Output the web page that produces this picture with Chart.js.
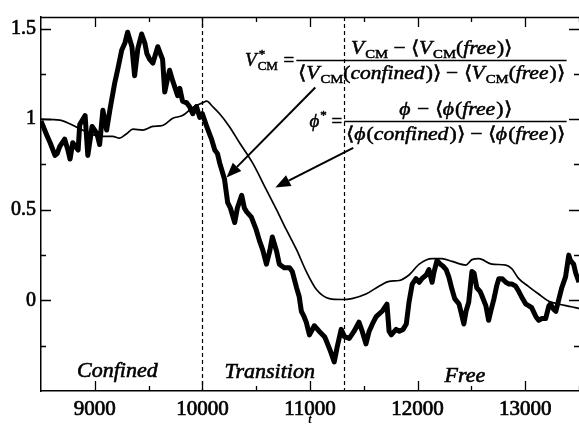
<!DOCTYPE html>
<html>
<head>
<meta charset="utf-8">
<script src="https://cdn.jsdelivr.net/npm/chart.js@4.4.1/dist/chart.umd.min.js"></script>
<style>
  html, body { margin: 0; padding: 0; background: #fff; }
</style>
</head>
<body>
<canvas id="myChart" width="579" height="425"></canvas>
<script>
// normalised centre-of-mass velocity (noisy trace)
let vcmTime = [
  8500, 8555, 8585, 8630, 8650, 8675, 8720, 8750, 8770, 8795, 8845, 8860, 8910, 8935, 8975,
  9020, 9045, 9075, 9110, 9140, 9185, 9215, 9250, 9280, 9305, 9345, 9370, 9400, 9435, 9465,
  9485, 9510, 9540, 9565, 9585, 9610, 9630, 9650, 9675, 9695, 9725, 9770, 9790, 9815, 9855,
  9880, 9910, 9945, 9975, 10000, 10040, 10065, 10085, 10115, 10140, 10160, 10185, 10205, 10235, 10260,
  10300, 10325, 10365, 10390, 10410, 10455, 10500, 10530, 10560, 10595, 10625, 10650, 10690, 10715, 10760,
  10810, 10835, 10875, 10900, 10920, 10945, 10965, 10995, 11040, 11085, 11135, 11150, 11190, 11225, 11255,
  11290, 11320, 11365, 11410, 11455, 11485, 11520, 11550, 11580, 11615, 11670, 11715, 11735, 11755, 11800,
  11830, 11865, 11895, 11920, 11950, 11985, 12015, 12040, 12080, 12105, 12135, 12150, 12180, 12210, 12235,
  12265, 12290, 12320, 12345, 12385, 12430, 12450, 12475, 12505, 12525, 12550, 12580, 12595, 12635, 12660,
  12680, 12710, 12735, 12755, 12785, 12820, 12850, 12875, 12910, 12940, 12975, 13005, 13035, 13060, 13100,
  13125, 13155, 13190, 13220, 13235, 13265, 13285, 13310, 13340, 13375, 13405, 13420, 13450, 13470, 13500
];
let vcmValue = [
  0.99, 0.91, 0.87, 0.80, 0.81, 0.85, 0.89, 0.83, 0.78, 0.87, 0.83, 0.97, 1.02, 0.80, 0.96,
  0.92, 0.86, 1.05, 0.94, 1.05, 1.20, 1.28, 1.38, 1.42, 1.48, 1.40, 1.24, 1.39, 1.47, 1.42,
  1.36, 1.33, 1.31, 1.36, 1.40, 1.36, 1.33, 1.15, 1.22, 1.27, 1.21, 1.13, 1.17, 1.10, 1.09,
  1.07, 1.03, 1.07, 1.01, 1.03, 0.96, 0.92, 0.89, 0.83, 0.81, 0.76, 0.71, 0.67, 0.54, 0.51,
  0.43, 0.51, 0.58, 0.51, 0.49, 0.46, 0.39, 0.33, 0.28, 0.20, 0.27, 0.35, 0.27, 0.20, 0.18,
  0.18, 0.16, 0.07, 0.02, -0.06, -0.09, -0.12, -0.19, -0.14, -0.17, -0.20, -0.22, -0.28, -0.34, -0.25,
  -0.16, -0.20, -0.21, -0.17, -0.12, -0.17, -0.24, -0.17, -0.13, -0.09, -0.06, -0.02, -0.17, -0.19, -0.16,
  -0.17, -0.16, -0.13, -0.01, 0.09, 0.12, 0.10, 0.12, 0.14, 0.17, 0.10, 0.15, 0.22, 0.20, 0.19,
  0.17, 0.13, 0.06, 0.01, -0.02, -0.13, -0.06, -0.01, 0.16, 0.15, 0.07, 0.05, 0.03, -0.03, -0.11,
  -0.06, 0.01, 0.08, 0.12, 0.12, 0.10, 0.09, 0.09, 0.08, 0.05, 0.01, -0.02, -0.03, -0.04, -0.09,
  -0.11, -0.10, -0.10, -0.03, -0.02, -0.05, -0.06, 0.00, 0.07, 0.13, 0.25, 0.22, 0.20, 0.15, 0.10
];

// normalised order parameter (smooth trace)
let phiTime = [
  8500, 8675, 8835, 8980, 9075, 9165, 9230, 9295, 9355, 9445, 9540, 9630, 9725, 9815, 9910,
  10000, 10040, 10095, 10160, 10250, 10345, 10465, 10595, 10690, 10780, 10875, 10965, 11060, 11180, 11300,
  11390, 11520, 11645, 11735, 11830, 11920, 12015, 12135, 12225, 12320, 12450, 12505, 12570, 12690, 12820,
  12875, 12940, 13035, 13125, 13220, 13310, 13430, 13500
];
let phiValue = [
  1.00, 0.995, 0.955, 0.915, 0.905, 0.905, 0.895, 0.92, 0.945, 0.94, 0.96, 0.965, 1.005, 1.02, 1.065,
  1.09, 1.10, 1.07, 1.03, 0.96, 0.87, 0.76, 0.61, 0.50, 0.39, 0.28, 0.16, 0.06, 0.01, 0.005,
  0.01, 0.035, 0.08, 0.105, 0.11, 0.14, 0.20, 0.23, 0.23, 0.215, 0.195, 0.225, 0.23, 0.20, 0.195,
  0.175, 0.12, 0.075, 0.035, -0.005, -0.02, -0.035, -0.045
];

let xMajorTicks = [9000, 10000, 11000, 12000, 13000];
let xMinorTicks = [9500, 10500, 11500, 12500, 13500];
let yMajorTicks = [0, 0.5, 1, 1.5];
let yMinorTicks = [-0.25, 0.25, 0.75, 1.25];
let regionBounds = [10000, 11320];
let regionNames = ["Confined", "Transition", "Free"];

const serif = '"Liberation Serif", "Times New Roman", serif';

function fontFor(kind, size) {
  if (kind === "i") return "italic " + size + "px " + serif;
  if (kind === "sub" || kind === "sup" || kind === "ss") return Math.round(size * 0.7) + "px " + serif;
  return size + "px " + serif;
}
// slightly heavier text, like a printed page
function ink(ctx, s, x, y) {
  ctx.fillText(s, x, y);
  ctx.strokeText(s, x, y);
}
function partWidth(ctx, p, size) {
  ctx.font = fontFor(p[0], size);
  if (p[0] === "ss") return Math.max(ctx.measureText(p[1]).width, ctx.measureText(p[2]).width) + 1;
  return ctx.measureText(p[1]).width + (p[0] === "i" ? size * 0.05 : 0);
}
function rowWidth(ctx, parts, size) {
  return parts.reduce((s, p) => s + partWidth(ctx, p, size), 0);
}
function drawParts(ctx, parts, x, y, size) {
  parts.forEach((p) => {
    const w = partWidth(ctx, p, size);
    ctx.font = fontFor(p[0], size);
    if (p[0] === "ss") {
      ink(ctx, p[1], x + 1, y - size * 0.42);
      ink(ctx, p[2], x, y + size * 0.24);
    } else {
      const dy = p[0] === "sub" ? size * 0.24 : p[0] === "sup" ? -size * 0.42 : 0;
      ink(ctx, p[1], x, y + dy);
    }
    x += w;
  });
}
function arrow(ctx, x0, y0, x1, y1) {
  const a = Math.atan2(y1 - y0, x1 - x0);
  const L = 15, W = 6;
  const bx = x1 - L * Math.cos(a), by = y1 - L * Math.sin(a);
  ctx.beginPath(); ctx.moveTo(x0, y0); ctx.lineTo(bx, by); ctx.stroke();
  ctx.beginPath();
  ctx.moveTo(x1, y1);
  ctx.lineTo(bx + W * Math.sin(a), by - W * Math.cos(a));
  ctx.lineTo(bx - W * Math.sin(a), by + W * Math.cos(a));
  ctx.closePath(); ctx.fill();
}

const V = ["i", "V"], CM = ["sub", "CM"], LA = ["r", "\u27E8"], RA = ["r", "\u27E9"];
const PHI = ["i", "\u03D5"], MINUS = ["r", " \u2212 "], LP = ["r", "("], RP = ["r", ")"];
const eqV = {
  left: [V, ["ss", "*", "CM"], ["r", " ="]],
  num: [V, CM, MINUS, LA, V, CM, LP, ["i", "free"], RP, RA],
  den: [LA, V, CM, LP, ["i", "confined"], RP, RA, MINUS, LA, V, CM, LP, ["i", "free"], RP, RA]
};
const eqPhi = {
  left: [PHI, ["sup", "*"], ["r", " ="]],
  num: [PHI, MINUS, LA, PHI, LP, ["i", "free"], RP, RA],
  den: [LA, PHI, LP, ["i", "confined"], RP, RA, MINUS, LA, PHI, LP, ["i", "free"], RP, RA]
};

function fraction(ctx, x, y, eq, t0, t1, level) {
  const size = 19;
  const xa = x.getPixelForValue(t0), xb = x.getPixelForValue(t1);
  const yb = Math.round(y.getPixelForValue(level)) + 0.5;
  ctx.lineWidth = 1.5;
  ctx.beginPath(); ctx.moveTo(xa, yb); ctx.lineTo(xb, yb); ctx.stroke();
  ctx.lineWidth = 0.5;
  const k = (xb - xa - 4) / rowWidth(ctx, eq.den, size);
  [[eq.num, yb - 7], [eq.den, yb + 18]].forEach(([row, base]) => {
    const w = rowWidth(ctx, row, size);
    ctx.save();
    ctx.translate((xa + xb) / 2, base);
    ctx.scale(k, 1);
    drawParts(ctx, row, -w / 2, 0, size);
    ctx.restore();
  });
  const wl = rowWidth(ctx, eq.left, size);
  drawParts(ctx, eq.left, xa - 2 - wl, yb + 5, size);
}

const frame = {
  id: "frame",
  beforeDatasetsDraw(chart) {
    const { ctx, chartArea: a, scales: { x } } = chart;
    ctx.save();
    ctx.strokeStyle = "#000";
    ctx.lineWidth = 1.2;
    ctx.setLineDash([4, 3]);
    regionBounds.forEach((t) => {
      const px = Math.round(x.getPixelForValue(t)) + 0.5;
      ctx.beginPath(); ctx.moveTo(px, a.top); ctx.lineTo(px, a.bottom); ctx.stroke();
    });
    ctx.restore();
  },
  afterDraw(chart) {
    const { ctx, chartArea: a, scales: { x, y } } = chart;
    ctx.save();
    ctx.strokeStyle = "#000";
    ctx.fillStyle = "#000";
    ctx.lineWidth = 1.3;

    // top frame line
    ctx.beginPath(); ctx.moveTo(a.left, a.top + 0.5); ctx.lineTo(a.right, a.top + 0.5); ctx.stroke();

    // inward tick marks on all four sides
    const tick = (vals, len) => {
      vals.forEach((v) => {
        const px = Math.round(x.getPixelForValue(v)) + 0.5;
        ctx.beginPath();
        ctx.moveTo(px, a.bottom); ctx.lineTo(px, a.bottom - len);
        ctx.moveTo(px, a.top); ctx.lineTo(px, a.top + len);
        ctx.stroke();
      });
    };
    const ytick = (vals, len) => {
      vals.forEach((v) => {
        const py = Math.round(y.getPixelForValue(v)) + 0.5;
        ctx.beginPath();
        ctx.moveTo(a.left, py); ctx.lineTo(a.left + len, py);
        ctx.moveTo(a.right, py); ctx.lineTo(a.right - len, py);
        ctx.stroke();
      });
    };
    tick(xMajorTicks, 10); tick(xMinorTicks, 5);
    ytick(yMajorTicks, 10); ytick(yMinorTicks, 5);

    // phase names
    ctx.textAlign = "center";
    ctx.textBaseline = "alphabetic";
    ctx.lineWidth = 0.6;
    ctx.font = "italic 22px " + serif;
    const nameAt = [[9210, -0.42], [10625, -0.426], [12440, -0.448]];
    regionNames.forEach((n, i) => {
      ink(ctx, n, x.getPixelForValue(nameAt[i][0]), y.getPixelForValue(nameAt[i][1]));
    });

    // axis variable
    ctx.font = "italic bold 12px " + serif;
    ctx.fillText("t", (a.left + a.right) / 2, x.bottom - 2);

    // definitions of the normalised quantities
    ctx.textAlign = "left";
    fraction(ctx, x, y, eqV, 10873, 13385, 1.329);
    fraction(ctx, x, y, eqPhi, 11318, 13385, 0.99);

    // arrows to the two traces
    ctx.lineWidth = 2;
    arrow(ctx, x.getPixelForValue(11049), y.getPixelForValue(1.175), x.getPixelForValue(10224), y.getPixelForValue(0.678));
    arrow(ctx, x.getPixelForValue(11402), y.getPixelForValue(0.842), x.getPixelForValue(10678), y.getPixelForValue(0.623));
    ctx.restore();
  }
};

let myChart = document.getElementById("myChart").getContext("2d");
let traceChart = new Chart(myChart, {
  type: "line",
  data: {
    datasets: [
      {
        label: "V*CM",
        data: vcmTime.map((t, i) => ({ x: t, y: vcmValue[i] })),
        borderColor: "#000",
        borderWidth: 5,
        borderJoinStyle: "round",
        pointRadius: 0,
        tension: 0,
      },
      {
        label: "phi*",
        data: phiTime.map((t, i) => ({ x: t, y: phiValue[i] })),
        borderColor: "#000",
        borderWidth: 1.7,
        pointRadius: 0,
        cubicInterpolationMode: "monotone",
      },
    ],
  },
  options: {
    responsive: false,
    animation: false,
    layout: { padding: { left: 0, right: -2, top: 13, bottom: 0 } },
    plugins: { legend: { display: false }, tooltip: { enabled: false } },
    scales: {
      x: {
        type: "linear",
        min: 8500,
        max: 13500,
        grid: { display: false, drawTicks: false },
        border: { display: true, color: "#000", width: 1.5 },
        afterBuildTicks: (s) => { s.ticks = xMajorTicks.map((v) => ({ value: v })); },
        afterFit: (s) => { s.height = 34; },
        ticks: {
          color: "#000",
          autoSkip: false,
          maxRotation: 0,
          padding: 6,
          textStrokeColor: "#000",
          textStrokeWidth: 0.7,
          font: { family: serif, size: 21 },
          callback: (v) => String(v),
        },
      },
      y: {
        min: -0.5,
        max: 1.564,
        grid: { display: false, drawTicks: false },
        border: { display: true, color: "#000", width: 1.5 },
        afterBuildTicks: (s) => { s.ticks = yMajorTicks.map((v) => ({ value: v })); },
        afterFit: (s) => { s.width = 41; },
        ticks: {
          color: "#000",
          padding: 5,
          textStrokeColor: "#000",
          textStrokeWidth: 0.7,
          font: { family: serif, size: 20 },
          callback: (v) => String(v),
        },
      },
    },
  },
  plugins: [frame],
});
</script>
</body>
</html>
